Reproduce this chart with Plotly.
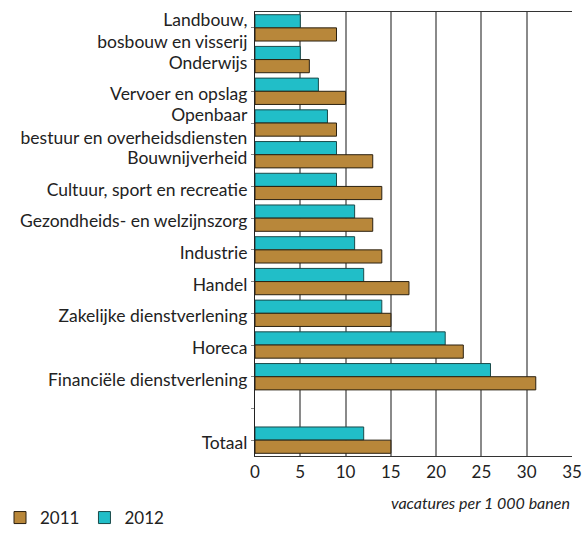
import plotly.graph_objects as go

categories = ["Landbouw,<br>bosbouw en visserij", "Onderwijs", "Vervoer en opslag",
              "Openbaar<br>bestuur en overheidsdiensten", "Bouwnijverheid",
              "Cultuur, sport en recreatie", "Gezondheids- en welzijnszorg", "Industrie",
              "Handel", "Zakelijke dienstverlening", "Horeca", "Financiële dienstverlening",
              " ", "Totaal"]
v2011 = [9, 6, 10, 9, 13, 14, 13, 14, 17, 15, 23, 31, None, 15]
v2012 = [5, 5, 7, 8, 9, 9, 11, 11, 12, 14, 21, 26, None, 12]
tickvals_x = [0, 5, 10, 15, 20, 25, 30, 35]

FONT = "Lato"
C2011 = "#B8873A"
C2012 = "#21BEC8"

fig = go.Figure()
fig.add_trace(go.Bar(y=categories, x=v2012, orientation="h", name="2012",
                     marker=dict(color=C2012, line=dict(color="#1a4a4a", width=1)),
                     legendrank=2))
fig.add_trace(go.Bar(y=categories, x=v2011, orientation="h", name="2011",
                     marker=dict(color=C2011, line=dict(color="#2a2010", width=1)),
                     legendrank=1))

fig.update_layout(
    width=583, height=536,
    margin=dict(l=255, r=11, t=12, b=80, autoexpand=False),
    paper_bgcolor="white", plot_bgcolor="white",
    barmode="group", bargap=0.17, bargroupgap=0,
    font=dict(family=FONT, size=18, color="#222"),
    showlegend=True,
    legend=dict(orientation="h", xref="container", yref="container",
                x=0.0, y=0.0, xanchor="left", yanchor="bottom",
                font=dict(size=17), tracegroupgap=0),
    xaxis=dict(range=[0, 35], tickvals=tickvals_x, showgrid=True,
               gridcolor="#8a8a8a", gridwidth=1.5, showline=True, linecolor="#333",
               linewidth=1.2, mirror=True, ticks="", zeroline=False, automargin=False,
               tickfont=dict(size=17)),
    yaxis=dict(autorange="reversed", showline=True, linecolor="#222", linewidth=1.2,
               ticks="outside", ticklen=3, tickcolor="#888", showgrid=False,
               automargin=False, tickfont=dict(size=17.5), ticklabelshift=-3),
    annotations=[dict(text="<i>vacatures per 1 000 banen</i>", xref="paper", yref="paper",
                      x=1, y=-0.105, xanchor="right", yanchor="middle", showarrow=False,
                      font=dict(size=16))],
)

fig.write_html("out.html", config={"displayModeBar": False},
               post_script="document.body.style.margin='0';document.body.style.overflow='hidden';")
